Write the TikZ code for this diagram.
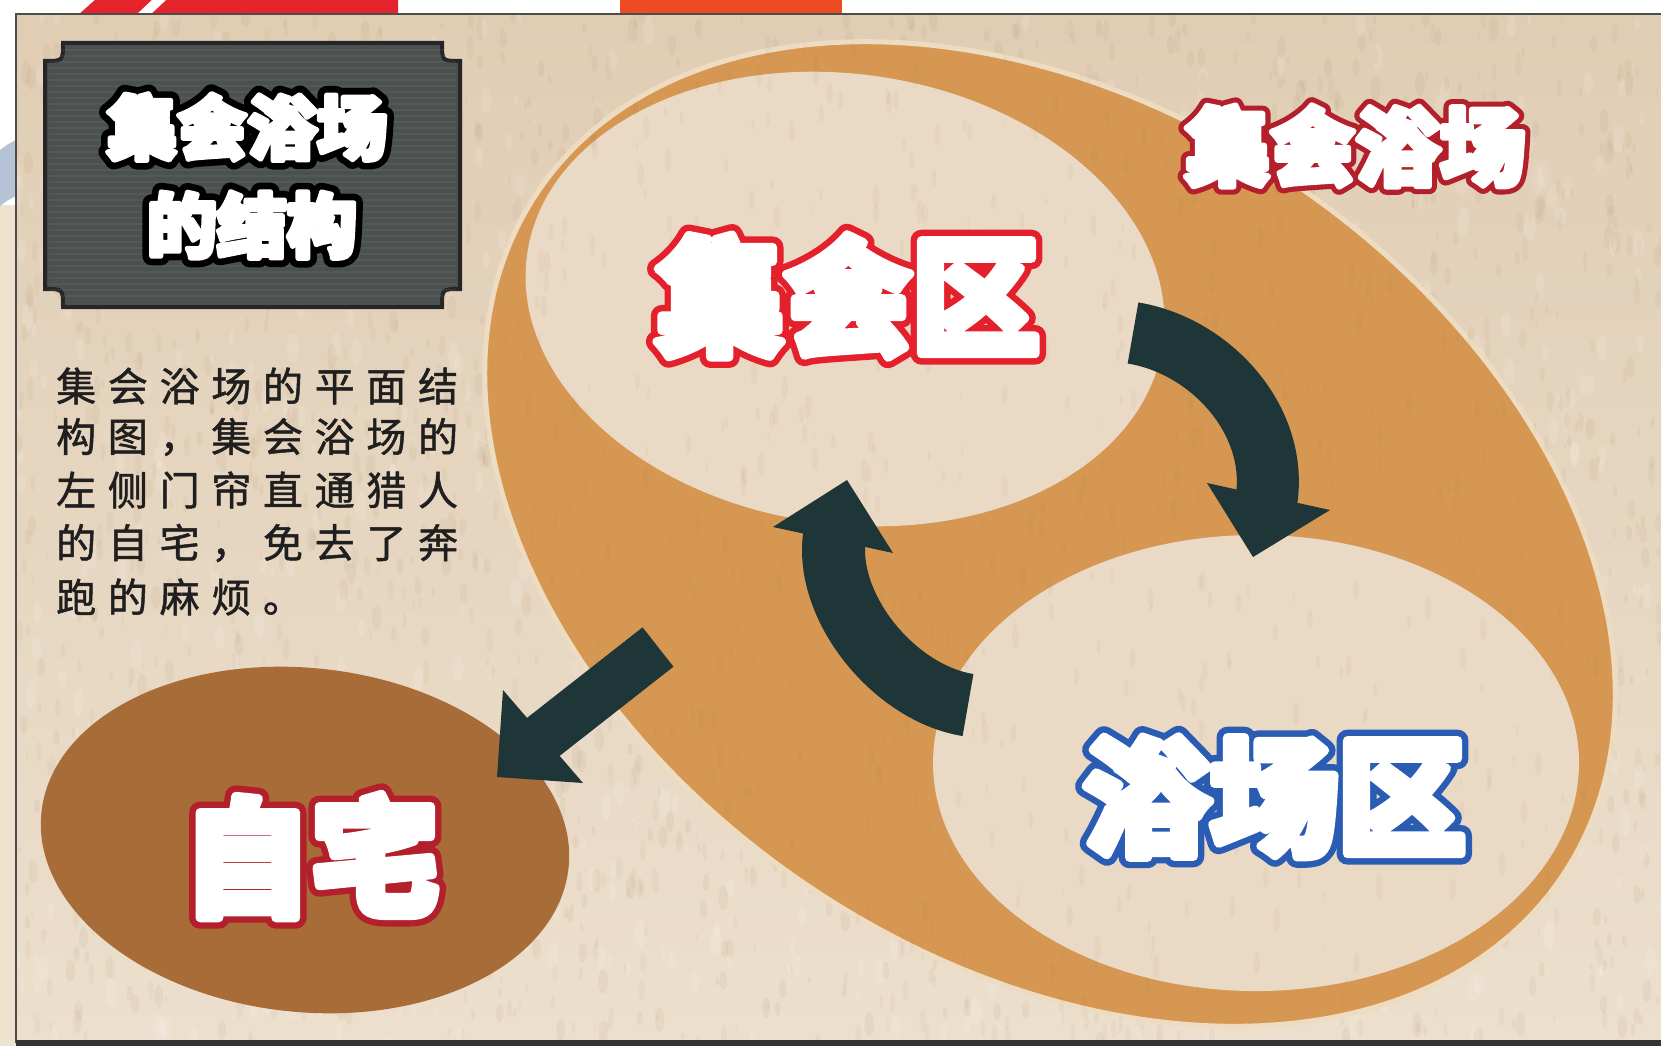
\documentclass[tikz,border=0pt]{standalone}
\usepackage{fontspec}
\newfontfamily\cjk{Noto Sans CJK SC}[FakeBold=1.2]
\newfontfamily\cjkBigOut{Noto Sans CJK SC}[BoldFeatures={FakeBold=17}]
\newfontfamily\cjkIn{Noto Sans CJK SC}[BoldFeatures={FakeBold=7}]
\newfontfamily\cjkTitOut{Noto Sans CJK SC}[BoldFeatures={FakeBold=26}]
\newfontfamily\cjkMidOut{Noto Sans CJK SC}[BoldFeatures={FakeBold=19}]
\usetikzlibrary{calc}
\definecolor{paper}{HTML}{E4D3BC}
\definecolor{papertop}{HTML}{E0CDB4}
\definecolor{paperbot}{HTML}{ECDFCD}
\definecolor{paperdk}{HTML}{9C7A55}
\definecolor{ringor}{HTML}{D59752}
\definecolor{ringrim}{HTML}{EEDCC2}
\definecolor{palein}{HTML}{EAD9C5}
\definecolor{homebr}{HTML}{A86C38}
\definecolor{arrowc}{HTML}{1F3638}
\definecolor{slate}{HTML}{4B5150}
\definecolor{redA}{HTML}{E3202B}
\definecolor{redB}{HTML}{B31F2A}
\definecolor{blueA}{HTML}{2A5CB4}
\definecolor{inkc}{HTML}{1F1F1F}
\definecolor{topred}{HTML}{E5232D}
\definecolor{toporange}{HTML}{EE4B23}
\definecolor{leftbeige}{HTML}{EEE3CE}
\definecolor{leftblue}{HTML}{B4C4D6}

\newcommand\bigOut{\cjkBigOut\bfseries\fontsize{128pt}{140pt}\selectfont}
\newcommand\bigIn{\cjkIn\bfseries\fontsize{128pt}{140pt}\selectfont}
\newcommand\midOut{\cjkMidOut\bfseries\fontsize{85pt}{95pt}\selectfont}
\newcommand\midIn{\cjkIn\bfseries\fontsize{85pt}{95pt}\selectfont}
\newcommand\titOut{\cjkTitOut\bfseries\fontsize{70pt}{80pt}\selectfont}
\newcommand\titIn{\cjkIn\bfseries\fontsize{70pt}{80pt}\selectfont}
\newcommand\bodyfont{\cjk\fontsize{40pt}{48pt}\selectfont}

% outlined label: name, position, outline font, fill font, outline colour, text
\newcommand{\olabel}[6]{%
  \node[font=#3, text=#5, inner sep=0pt, line join=round] (#1o) at #2 {#6};
  \node[font=#4, text=white, inner sep=0pt, line join=round] (#1) at #2 {#6};
}

% evenly spaced characters
\def\spc#1{\ifx#1\relax\else\makebox[51.7pt][l]{#1}\expandafter\spc\fi}

\tikzset{
  band/.style={draw=arrowc, line width=#1, line cap=butt},
  headfill/.style={fill=arrowc},
  bodytext/.style={anchor=west, inner sep=0pt, font=\bodyfont, text=inkc}
}

\begin{document}
\begin{tikzpicture}[x=1pt, y=-1pt]
\useasboundingbox (0,0) rectangle (1661,1046);

% outside background
\fill[white] (0,0) rectangle (1661,1046);
\fill[topred] (95,0) -- (398,0) -- (398,15) -- (78,15) -- cycle;
\fill[white] (136,15) -- (152,0) -- (166,0) -- (150,15) -- cycle;
\fill[toporange] (620,0) rectangle (842,15);
\fill[leftbeige] (0,205) rectangle (16,1046);
\fill[leftblue] (0,150) .. controls (8,144) .. (16,140) -- (16,196) .. controls (8,200) .. (0,206) -- cycle;

% panel
\shade[top color=papertop, bottom color=paperbot] (16,14) rectangle (1661,1043);
\begin{scope}
  \clip (16,14) rectangle (1661,1043);
  \pgfmathsetseed{42}
  \foreach \i in {1,...,1100}{
    \pgfmathsetmacro\xx{16+1645*rnd}
    \pgfmathsetmacro\yy{14+1029*rnd}
    \pgfmathsetmacro\rr{1.5+3.5*rnd}
    \fill[paperdk, opacity=0.08] (\xx,\yy) ellipse [x radius=\rr pt, y radius=2.5*\rr pt];
  }
  \foreach \i in {1,...,800}{
    \pgfmathsetmacro\xx{16+1645*rnd}
    \pgfmathsetmacro\yy{14+1029*rnd}
    \pgfmathsetmacro\rr{2+4*rnd}
    \fill[white, opacity=0.12] (\xx,\yy) ellipse [x radius=\rr pt, y radius=2.5*\rr pt];
  }
\end{scope}

% regions
\fill[homebr, rotate around={-6:(305,840)}] (305,840) ellipse [x radius=265pt, y radius=172pt];
\path[fill=ringor, draw=ringrim, line width=5pt, rotate around={-33.5:(1050,534)}] (1050,534) ellipse [x radius=616pt, y radius=427pt];
\fill[palein, rotate around={-8:(845,299)}] (845,299) ellipse [x radius=321pt, y radius=225pt];
\fill[palein] (1256,763) ellipse [x radius=323pt, y radius=228pt];

% texture overlay on regions
\begin{scope}
  \clip (16,14) rectangle (1661,1043);
  \pgfmathsetseed{7}
  \foreach \i in {1,...,1000}{
    \pgfmathsetmacro\xx{16+1645*rnd}
    \pgfmathsetmacro\yy{14+1029*rnd}
    \pgfmathsetmacro\rr{1+2.5*rnd}
    \fill[paperdk, opacity=0.06] (\xx,\yy) ellipse [x radius=\rr pt, y radius=3.5*\rr pt];
  }
\end{scope}

% title box
\path[fill=slate, draw=black!85, line width=4pt]
  (63,43) -- (442,43) .. controls (442,61) .. (460,61) -- (460,289)
  .. controls (442,289) .. (442,307) -- (63,307) .. controls (63,289) .. (45,289)
  -- (45,61) .. controls (63,61) .. (63,43) -- cycle;
\begin{scope}
  \clip (49,47) rectangle (456,303);
  \foreach \yy in {50,56,...,300}{
    \draw[white, opacity=0.05, line width=1.5pt] (49,\yy) -- (456,\yy);
  }
\end{scope}

% arrows
\coordinate (a1s) at (1133,333);
\coordinate (a1b) at (1265,508);
\coordinate (a1t) at (1253,557);
\coordinate (a1w1) at (1207,483);
\coordinate (a1w2) at (1330,510);
\draw[band=62pt] (a1s) .. controls (1213,346) and (1283,425) .. (a1b);
\fill[headfill] (a1w1) -- (a1t) -- (a1w2) -- cycle;

\coordinate (a2s) at (968,705);
\coordinate (a2b) at (836,528);
\coordinate (a2t) at (847,480);
\coordinate (a2w1) at (893,553);
\coordinate (a2w2) at (773,527);
\draw[band=63pt] (a2s) .. controls (892,693) and (819,601) .. (a2b);
\fill[headfill] (a2w1) -- (a2t) -- (a2w2) -- cycle;

\coordinate (a3s) at (658,647);
\coordinate (a3b) at (533,745);
\coordinate (a3t) at (497,777);
\coordinate (a3w1) at (503,690);
\coordinate (a3w2) at (583,783);
\draw[band=50pt] (a3s) -- (a3b);
\fill[headfill] (a3w1) -- (a3t) -- (a3w2) -- cycle;

% labels
\olabel{tA}{(247,127)}{\titOut}{\titIn}{black}{集会浴场}
\olabel{tB}{(252,225)}{\titOut}{\titIn}{black}{的结构}
\olabel{meet}{(848,296)}{\bigOut}{\bigIn}{redA}{集会区}
\olabel{bath}{(1274,797)}{\bigOut}{\bigIn}{blueA}{浴场区}
\olabel{home}{(311,856)}{\bigOut}{\bigIn}{redB}{自宅}
\olabel{hall}{(1355,146)}{\midOut}{\midIn}{redB}{集会浴场}

% description
\node[bodytext] (p1) at (56,386) {\spc 集会浴场的平面结\relax};
\node[bodytext] (p2) at (56,437) {\spc 构图，集会浴场的\relax};
\node[bodytext] (p3) at (56,490) {\spc 左侧门帘直通猎人\relax};
\node[bodytext] (p4) at (56,543) {\spc 的自宅，免去了奔\relax};
\node[bodytext] (p5) at (56,597) {\spc 跑的麻烦。\relax};

% panel frame
\draw[line width=2pt, black!70] (16,1043) -- (16,14) -- (1661,14);
\fill[black!80] (16,1040) rectangle (1661,1046);
\end{tikzpicture}
\end{document}
